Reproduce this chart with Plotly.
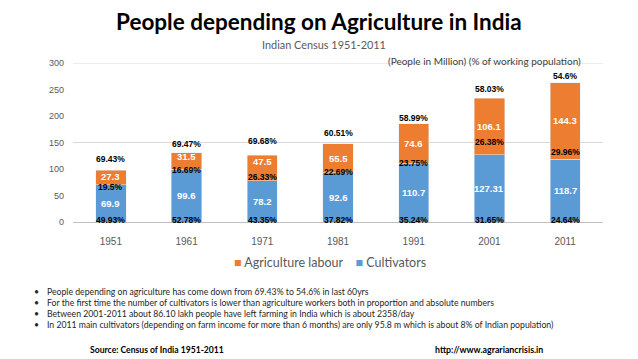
import plotly.graph_objects as go

# ---- data ----
years = ["1951", "1961", "1971", "1981", "1991", "2001", "2011"]
cultivators = [69.9, 99.6, 78.2, 92.6, 110.7, 127.31, 118.7]
agri_labour = [27.3, 31.5, 47.5, 55.5, 74.6, 106.1, 144.3]
cult_share = ["49.93%", "52.78%", "43.35%", "37.82%", "35.24%", "31.65%", "24.64%"]
labour_share = ["19.5%", "16.69%", "26.33%", "22.69%", "23.75%", "26.38%", "29.96%"]
total_share = ["69.43%", "69.47%", "69.68%", "60.51%", "58.99%", "58.03%", "54.6%"]
y_ticks = [0, 50, 100, 150, 200, 250, 300]

title = "People depending on Agriculture in India"
subtitle = "Indian Census 1951-2011"
unit_note = "(People in Million) (% of working population)"
bullets = [
    "People depending on agriculture has come down from 69.43% to 54.6% in last 60yrs",
    "For the first time the number of cultivators is lower than agriculture workers both in proportion and absolute numbers",
    "Between 2001-2011 about 86.10 lakh people have left farming in India which is about 2358/day",
    "In 2011 main cultivators (depending on farm income for more than 6 months) are only 95.8 m which is about 8% of Indian population)",
]
source = "Source: Census of India 1951-2011"
url = "http://www.agrariancrisis.in"

# ---- style / layout constants ----
ORANGE = "#ED7D31"
BLUE = "#5B9BD5"
GREY = "#595959"
W, H = 638, 359
L, R = 73, 603          # plot area x pixels
Y0, Y1 = 221.7, 63.3     # pixel y for 0 and 300
mid_off = [-3.9, -1.6, 5.8, 2.1, -0.1, 22.7, 12.8]     # labour share label offset
top_off = [21.5, 16, 27, 19, 10.5, 17.4, 13]          # total share label offset
lab_off = [3, 8, 13, 0, 0, 0, 0]                      # labour value label shift


def px(x):
    return (x - L) / (R - L)


def py(y):
    return (Y0 - y) / (Y0 - Y1)


fig = go.Figure()
fig.add_trace(go.Bar(x=years, y=cultivators, name="Cultivators", marker_color=BLUE,
                     width=0.4, showlegend=False, hoverinfo="skip"))
fig.add_trace(go.Bar(x=years, y=agri_labour, name="Agriculture labour", marker_color=ORANGE,
                     width=0.4, showlegend=False, hoverinfo="skip"))

ann = []
pct_font = dict(family="Liberation Sans", size=8.5, color="black", weight="bold")
val_font = dict(family="Liberation Sans", size=9.5, color="white", weight="bold")
mid = dict(showarrow=False, xanchor="center", yanchor="middle")
for i, yr in enumerate(years):
    c, a = cultivators[i], agri_labour[i]
    ann.append(dict(**mid, x=i, y=c / 2, text=f"{c:g}", font=val_font))
    ann.append(dict(**mid, x=i, y=c + a / 2 + lab_off[i], text=f"{a:g}", font=val_font))
    ann.append(dict(**mid, x=i, y=3.5, text=cult_share[i], font=pct_font))
    ann.append(dict(**mid, x=i, y=c + mid_off[i], text=labour_share[i], font=pct_font))
    ann.append(dict(**mid, x=i, y=c + a + top_off[i], text=total_share[i], font=pct_font))

paper = dict(xref="paper", yref="paper", showarrow=False, yanchor="middle")
ann.append(dict(**paper, x=px(318.5), y=py(22), xanchor="center", text=title,
                font=dict(family="Lato", size=22.5, color="black", weight="bold")))
ann.append(dict(**paper, x=px(324), y=py(45), xanchor="center", text=subtitle,
                font=dict(family="Lato", size=10.9, color=GREY)))
ann.append(dict(**paper, x=px(583), y=py(61), xanchor="right", text=unit_note,
                font=dict(family="Lato", size=10, color="#404040")))
ann.append(dict(**paper, x=px(330), y=py(262), xanchor="center",
                text=f"<span style='color:{ORANGE}'>■</span> Agriculture labour"
                     f"    <span style='color:{BLUE}'>■</span> Cultivators",
                font=dict(family="Lato", size=12.5, color=GREY)))
for k, b in enumerate(bullets):
    yy = 291 + k * 11
    ann.append(dict(**paper, x=px(32), y=py(yy), xanchor="left", text="•",
                    font=dict(family="Lato", size=8.7, color="#262626")))
    ann.append(dict(**paper, x=px(45), y=py(yy), xanchor="left", text=b,
                    font=dict(family="Lato", size=8.7, color="#262626")))
ann.append(dict(**paper, x=px(88), y=py(349), xanchor="left", text=source,
                font=dict(family="Lato", size=8.6, color="black", weight="bold")))
ann.append(dict(**paper, x=px(433), y=py(349), xanchor="left", text=url,
                font=dict(family="Lato", size=8.8, color="black", weight="bold")))

fig.update_layout(
    barmode="stack",
    width=W, height=H,
    margin=dict(l=L, r=W - R, t=Y1, b=H - Y0),
    paper_bgcolor="white", plot_bgcolor="white",
    annotations=ann,
    shapes=[dict(type="line", xref="paper", yref="y", x0=0, x1=1, y0=v, y1=v,
                 line=dict(color="#D9D9D9", width=1), layer="below") for v in (150, 300)],
    xaxis=dict(type="category", categoryorder="array", categoryarray=years,
               range=[-0.5, len(years) - 0.5], autorange=False,
               showgrid=False, showline=True, linecolor="#BFBFBF", linewidth=1,
               ticks="", ticklabelstandoff=10,
               tickfont=dict(family="Liberation Sans", size=10, color=GREY)),
    yaxis=dict(range=[0, 300], autorange=False, tickvals=y_ticks, showgrid=False,
               zeroline=False, showline=False, ticks="", ticklabelstandoff=8,
               tickfont=dict(family="Liberation Sans", size=9, color=GREY)),
    font=dict(family="Lato"),
)

fig.write_html("out.html", config={"displayModeBar": False},
               post_script="document.body.style.margin='0';")
